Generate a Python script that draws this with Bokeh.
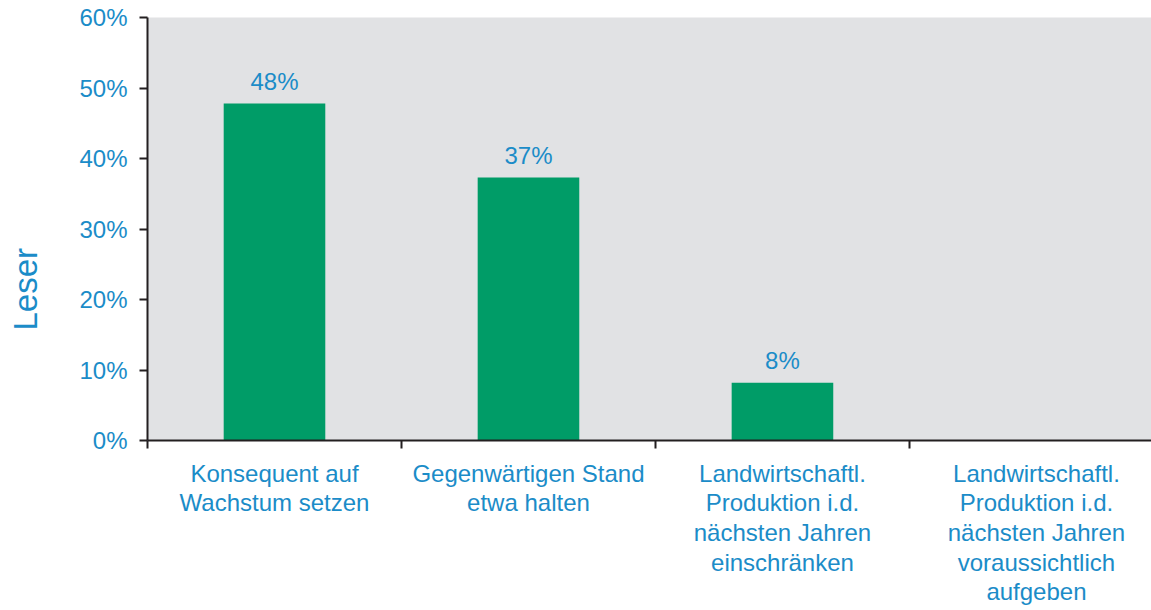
from bokeh.plotting import figure
from bokeh.models import Range1d, FixedTicker, ColumnDataSource, Title
from bokeh.embed import file_html
from bokeh.resources import INLINE
from bokeh.core.properties import value

categories = [
    "Konsequent auf\nWachstum setzen",
    "Gegenwärtigen Stand\netwa halten",
    "Landwirtschaftl.\nProduktion i.d.\nnächsten Jahren\neinschränken",
    "Landwirtschaftl.\nProduktion i.d.\nnächsten Jahren\nvoraussichtlich\naufgeben",
]
values = [47.8, 37.3, 8.2, 0.0]
value_labels = ["48%", "37%", "8%", ""]
y_ticks = [0, 10, 20, 30, 40, 50, 60]
y_tick_labels = ["0%", "10%", "20%", "30%", "40%", "50%", "60%"]
y_title = "Leser"

BLUE = "#1b8cc8"
GREEN = "#009c67"
BG = "#e1e2e4"
AXIS = "#231f20"
FONT = "Liberation Sans"

xs = [i + 0.5 for i in range(len(categories))]
src = ColumnDataSource(dict(x=xs, top=values, lab=value_labels))

p = figure(width=1151, height=610, output_backend="svg", toolbar_location=None,
           x_range=Range1d(0, 3.953), y_range=Range1d(0, 60),
           min_border_left=147, min_border_right=0, min_border_top=17,
           min_border_bottom=170)
p.background_fill_color = BG
p.border_fill_color = "white"
p.outline_line_color = None
p.xgrid.visible = False
p.ygrid.visible = False

p.vbar(x="x", top="top", bottom=0, width=0.4, source=src,
       fill_color=GREEN, line_color=None)
p.text(x="x", y="top", text="lab", source=src, text_align="center",
       text_baseline="bottom", y_offset=-9, text_color=BLUE,
       text_font=value(FONT), text_font_size="24px")

# y axis
ya = p.yaxis[0]
ya.ticker = FixedTicker(ticks=y_ticks, minor_ticks=[])
ya.major_label_overrides = {t: l for t, l in zip(y_ticks, y_tick_labels)}
ya.major_label_text_color = BLUE
ya.major_label_text_font = FONT
ya.major_label_text_font_size = "24px"
ya.major_label_standoff = 12
ya.major_tick_in = 0
ya.major_tick_out = 8
ya.major_tick_line_color = AXIS
ya.major_tick_line_width = 2
ya.axis_line_color = AXIS
ya.axis_line_width = 2
ya.axis_label = " "
ya.axis_label_text_font_size = "24px"
ya.axis_label_standoff = 0

# x axis
xa = p.xaxis[0]
xa.ticker = FixedTicker(ticks=xs, minor_ticks=[0, 1, 2, 3, 4])
xa.major_label_overrides = {x: c for x, c in zip(xs, categories)}
xa.major_label_text_color = BLUE
xa.major_label_text_font = FONT
xa.major_label_text_font_size = "24px"
xa.major_label_text_line_height = 1.1
xa.major_label_standoff = 11
xa.major_tick_in = 0
xa.major_tick_out = 0
xa.minor_tick_in = 0
xa.minor_tick_out = 8
xa.minor_tick_line_color = AXIS
xa.minor_tick_line_width = 2
xa.axis_line_color = AXIS
xa.axis_line_width = 2

t = Title(text=y_title, align="left", offset=110, text_color=BLUE,
          text_font=FONT, text_font_size="33px", text_font_style="normal",
          standoff=6)
p.add_layout(t, "left")

open("out.html", "w").write(file_html(p, INLINE))
